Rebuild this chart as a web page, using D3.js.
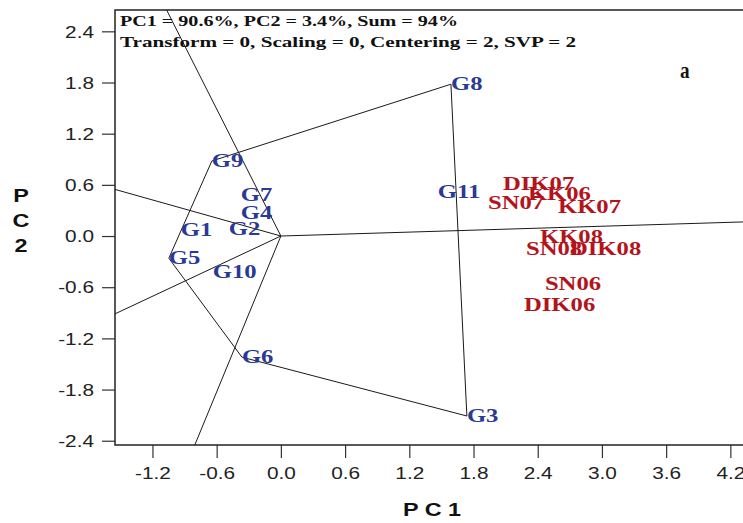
<!DOCTYPE html>
<html><head><meta charset="utf-8">
<script src="https://cdn.jsdelivr.net/npm/d3@7"></script>
<style>body{margin:0;background:#fff}</style>
</head><body><svg id="c" width="743" height="523"></svg>
<script>
// ---- data ----
const genotypes = ["G1","G2","G3","G4","G5","G6","G7","G8","G9","G10","G11"];
const genoPC1 = [-0.935,-0.486,1.738,-0.374,-1.047,-0.364,-0.374,1.589,-0.645,-0.636,1.467];
const genoPC2 = [0.07,0.08,-2.11,0.27,-0.26,-1.42,0.49,1.78,0.88,-0.42,0.52];
const envs = ["DIK07","KK06","SN07","KK07","KK08","SN08","DIK08","SN06","DIK06"];
const envPC1 = [2.075,2.308,1.935,2.589,2.421,2.290,2.701,2.467,2.271];
const envPC2 = [0.61,0.50,0.39,0.34,-0.01,-0.15,-0.15,-0.56,-0.80];
const hull = ["G8","G3","G6","G5","G9"];
const xTicks = [-1.2,-0.6,0,0.6,1.2,1.8,2.4,3.0,3.6,4.2];
const yTicks = [-2.4,-1.8,-1.2,-0.6,0,0.6,1.2,1.8,2.4];
const headerLines = ["PC1 = 90.6%, PC2 = 3.4%, Sum = 94%","Transform = 0, Scaling = 0, Centering = 2, SVP = 2"];
const panelLabel = "a";
const xTitle = "P C 1";
const yTitle = ["P","C","2"];

// ---- layout ----
const L = 115, T = 10, R = 760, B = 445;
const SX = 1.3;
const svg = d3.select("#c");
const x = d3.scaleLinear().domain([-1.55, 4.477]).range([L, R]);
const y = d3.scaleLinear().domain([-2.45, 2.65]).range([B, T]);

svg.append("defs").append("clipPath").attr("id","clip")
  .append("rect").attr("x",L).attr("y",T).attr("width",R-L).attr("height",B-T);

function stext(g, px, py, str, sx) {
  return g.append("text").attr("transform", `translate(${px},${py}) scale(${sx},1)`).text(str);
}

// ---- axes ----
const fmt = v => v.toFixed(1);
const xa = svg.append("g").attr("transform",`translate(0,${B})`)
  .call(d3.axisBottom(x).tickValues(xTicks).tickSize(13).tickFormat(fmt));
xa.select(".domain").remove();
xa.selectAll("line").attr("stroke","#333").attr("stroke-width",1.2);
xa.selectAll("text").attr("y",23).attr("dy","0.71em").attr("transform",`scale(${SX},1)`)
  .attr("font-family","'Liberation Sans', Arial, sans-serif").attr("font-size",16).attr("fill","#222");

const ya = svg.append("g").attr("transform",`translate(${L},0)`)
  .call(d3.axisLeft(y).tickValues(yTicks).tickSize(13).tickFormat(fmt));
ya.select(".domain").remove();
ya.selectAll("line").attr("stroke","#333").attr("stroke-width",1.2);
ya.selectAll("text").attr("x",-21/SX).attr("dy","0.36em").attr("transform",`scale(${SX},1)`)
  .attr("font-family","'Liberation Sans', Arial, sans-serif").attr("font-size",16).attr("fill","#222");

// frame
svg.append("rect").attr("x",L).attr("y",T).attr("width",R-L).attr("height",B-T)
  .attr("fill","none").attr("stroke","#222").attr("stroke-width",1.5);

// ---- polygon and rays ----
const gIdx = name => genotypes.indexOf(name);
const hullPts = hull.map(n => [genoPC1[gIdx(n)], genoPC2[gIdx(n)]]);
const lines = svg.append("g").attr("clip-path","url(#clip)")
  .attr("stroke","#1a1a1a").attr("stroke-width",1).attr("fill","none");
lines.append("path")
  .attr("d", d3.line().x(d=>x(d[0])).y(d=>y(d[1])).curve(d3.curveLinearClosed)(hullPts));
hullPts.forEach((a,i) => {
  const b = hullPts[(i+1)%hullPts.length];
  const ex = b[0]-a[0], ey = b[1]-a[1];
  let nx = ey, ny = -ex;
  if (nx*a[0] + ny*a[1] < 0) { nx = -nx; ny = -ny; }
  const len = Math.hypot(nx,ny), k = 20/len;
  lines.append("line").attr("x1",x(0)).attr("y1",y(0))
    .attr("x2",x(nx*k)).attr("y2",y(ny*k));
});

// ---- labels ----
const lab = svg.append("g").attr("font-family","'Liberation Serif','Times New Roman',serif")
  .attr("font-weight","bold").attr("font-size",19);
genotypes.forEach((g,i) => {
  stext(lab, x(genoPC1[i]), y(genoPC2[i]), g, SX).attr("dy","0.33em").attr("fill","#2a3a94");
});
envs.forEach((e,i) => {
  stext(lab, x(envPC1[i]), y(envPC2[i]), e, SX).attr("dy","0.33em").attr("fill","#b3141c");
});

// header
const hd = svg.append("g").attr("font-family","'Liberation Serif','Times New Roman',serif")
  .attr("font-weight","bold").attr("font-size",15.5).attr("fill","#111");
const headerWidths = [338, 456];
headerLines.forEach((t,i) => hd.append("text").attr("x",120).attr("y",26 + i*21)
  .attr("textLength", headerWidths[i]).attr("lengthAdjust","spacingAndGlyphs").text(t));

// panel label
stext(svg, 680, 78, panelLabel, 0.8).attr("font-family","'Liberation Serif',serif")
  .attr("font-weight","bold").attr("font-size",24).attr("fill","#111");

// axis titles
const tt = svg.append("g").attr("font-family","'Liberation Sans', Arial, sans-serif")
  .attr("font-weight","bold").attr("font-size",18).attr("fill","#111").attr("text-anchor","middle");
stext(tt, 432, 516, xTitle, SX);
yTitle.forEach((c,i) => stext(tt, 21, 202 + i*25, c, SX));
</script></body></html>
